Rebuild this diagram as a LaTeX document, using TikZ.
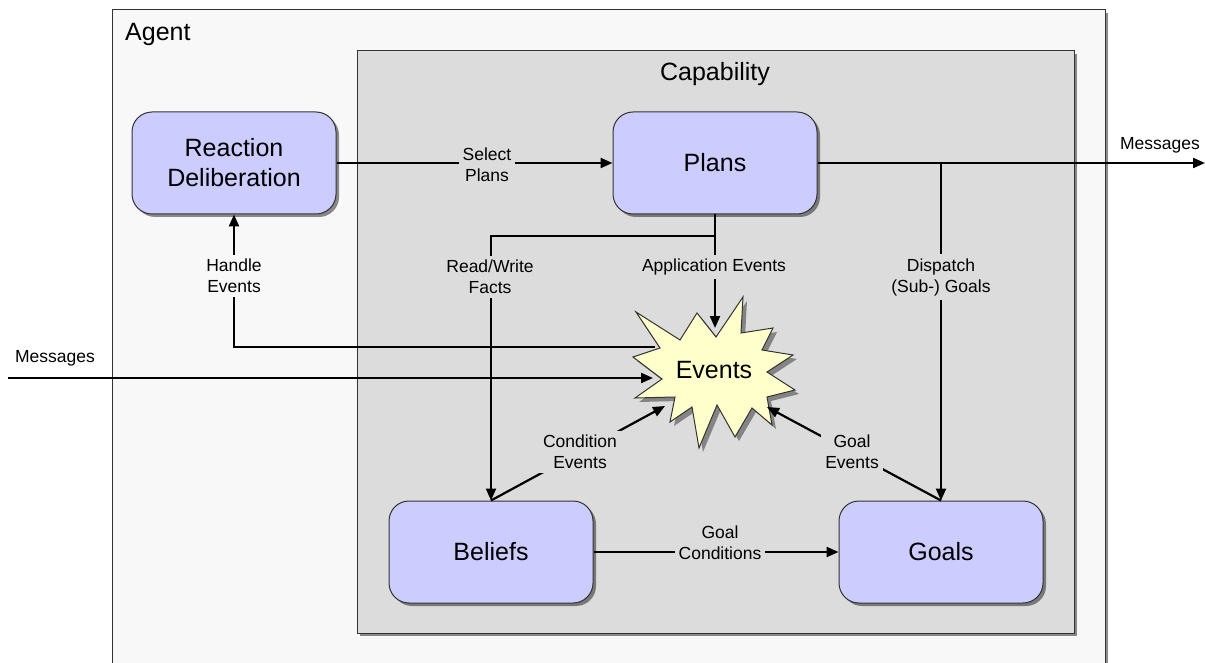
\documentclass[tikz,border=0pt]{standalone}
\usepackage{fontspec}
\setmainfont{Liberation Sans}
\usetikzlibrary{arrows.meta,shadows}
\definecolor{agentbg}{HTML}{F8F8F8}
\definecolor{capbg}{HTML}{DCDCDC}
\definecolor{boxfill}{HTML}{CCCCFF}
\definecolor{starfill}{HTML}{FFFFCC}
\definecolor{edgecol}{HTML}{333333}
\begin{document}
\begin{tikzpicture}[x=1pt,y=-1pt,
  shadowed/.style={drop shadow={shadow xshift=3pt,shadow yshift=-3pt,fill=black,opacity=0.45}},
  box/.style={draw=edgecol, line width=1pt, fill=boxfill, rounded corners=20pt,
    minimum width=204pt, minimum height=102pt, align=center, inner sep=0pt,
    font=\fontsize{25}{30}\selectfont, shadowed},
  conn/.style={line width=2.2pt, black},
  arr/.style={conn, -{Triangle[length=12pt,width=10pt]}},
  lbl/.style={font=\fontsize{17.5}{21}\selectfont, align=center, inner sep=4pt},
  title/.style={font=\fontsize{25}{30}\selectfont, inner sep=0pt},
]
\useasboundingbox (0,0) rectangle (1205,663);
% containers
\path[draw=edgecol, line width=1pt, fill=agentbg, shadowed] (112,10) rectangle (1105,690);
\path[draw=edgecol, line width=1pt, fill=capbg, shadowed] (357,51) rectangle (1074,633);
\node[title, anchor=west] (agentlbl) at (125,34) {Agent};
\node[title] (caplbl) at (715,74) {Capability};
% boxes
\node[box] (rd) at (234,163) {Reaction\\Deliberation};
\node[box] (pl) at (715,163) {Plans};
\node[box] (bl) at (491,552) {Beliefs};
\node[box] (go) at (941,552) {Goals};
% star
\def\starpath{(636,312) -- (680,340) -- (697,313) -- (716,337) -- (743,297) -- (741,333) -- (773,328) -- (762,350) -- (793,355) -- (767,372) -- (795,390) -- (767,397) -- (772,425) -- (752,408) -- (735,437) -- (717,405) -- (699,448) -- (692,407) -- (670,422) -- (675,397) -- (635,398) -- (662,379) -- (633,357) -- (660,348) -- cycle}
\fill[black, opacity=0.4, shift={(4,4)}] \starpath;
\filldraw[draw=edgecol, line width=1pt, fill=starfill] \starpath;
\node[title] (ev) at (714,370) {Events};
% named points
\coordinate (mout) at (1205,163);
\coordinate (min) at (8,378);
\coordinate (evin) at (653,378);
\coordinate (hstart) at (655,347);
\coordinate (j) at (715,236);
\coordinate (evtop) at (715,328);
\coordinate (evcond) at (665,406);
\coordinate (evgoal) at (767,407);
% connectors
\draw[arr] (rd.east) -- (pl.west);
\draw[arr] (pl.east) -- (mout);
\draw[arr] (pl.east -| go.north) -- (go.north);
\draw[arr] (hstart) -| (rd.south);
\draw[arr] (min) -- (evin);
\draw[arr] (pl.south) -- (j) -| (bl.north);
\draw[arr] (j) -- (evtop);
\draw[arr] (bl.north) -- (evcond);
\draw[arr] (go.north) -- (evgoal);
\draw[arr] (bl.east) -- (go.west);
% labels
\node[lbl, fill=capbg] (lsel) at (487,165) {Select\\Plans};
\node[lbl, fill=capbg] (lrw) at (490,277) {Read/Write\\Facts};
\node[lbl, fill=capbg] (lapp) at (714,267) {Application Events};
\node[lbl, fill=capbg] (ldis) at (941,277) {Dispatch\\(Sub-) Goals};
\node[lbl, fill=capbg] (lcond) at (580,452) {Condition\\Events};
\node[lbl, fill=capbg] (lge) at (852,452) {Goal\\Events};
\node[lbl, fill=capbg] (lgc) at (720,543) {Goal\\Conditions};
\node[lbl, fill=agentbg] (lhe) at (234,276) {Handle\\Events};
\node[lbl] (lmin) at (55,358) {Messages};
\node[lbl] (lmout) at (1160,145) {Messages};
\end{tikzpicture}
\end{document}
